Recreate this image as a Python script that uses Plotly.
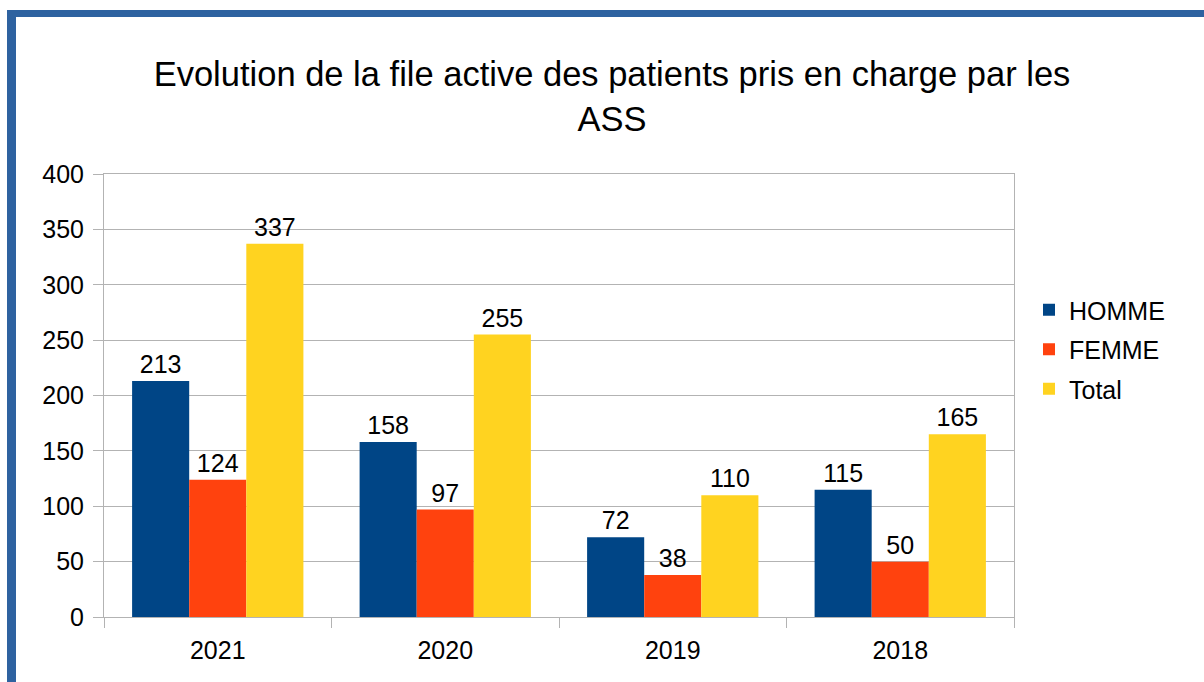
import plotly.graph_objects as go

years = ["2021", "2020", "2019", "2018"]
homme = [213, 158, 72, 115]
femme = [124, 97, 38, 50]
total = [337, 255, 110, 165]
series_names = ["HOMME", "FEMME", "Total"]
colors = ["#004586", "#FF420E", "#FFD320"]

W, H = 1204, 682
ML, MR, MT, MB = 104, 190, 174, 65
PW, PH = W - ML - MR, H - MT - MB

def px_x(px):
    return (px - ML) / PW

def px_y(py):
    return (H - MB - py) / PH

FONT = "Liberation Sans, Arial, sans-serif"

fig = go.Figure()
for i, (name, vals, col) in enumerate(zip(series_names, [homme, femme, total], colors)):
    fig.add_trace(go.Bar(
        name=name, x=years, y=vals, marker=dict(color=col, line=dict(width=0)),
        text=[str(v) for v in vals], textposition="outside",
        textfont=dict(size=25, color="black", family=FONT),
        cliponaxis=False, legendgroup="g%d" % i,
    ))

frame_col = "#2E62A0"
shapes = [
    dict(type="rect", xref="paper", yref="paper", x0=px_x(7), x1=px_x(1210),
         y0=px_y(10), y1=px_y(17), fillcolor=frame_col, line=dict(width=0), layer="above"),
    dict(type="rect", xref="paper", yref="paper", x0=px_x(7), x1=px_x(16),
         y0=px_y(10), y1=px_y(690), fillcolor=frame_col, line=dict(width=0), layer="above"),
]

fig.update_layout(
    width=W, height=H,
    margin=dict(l=ML, r=MR, t=MT, b=MB, pad=0),
    paper_bgcolor="white", plot_bgcolor="white",
    font=dict(family=FONT, size=25, color="black"),
    barmode="group", bargap=0.247, bargroupgap=0,
    title=dict(text="Evolution de la file active des patients pris en charge par les<br>ASS",
               x=612 / W, xref="container", xanchor="center",
               y=1 - 86 / H, yref="container", yanchor="middle",
               font=dict(size=34.5, family=FONT, color="black")),
    legend=dict(x=px_x(1029), y=px_y(287), xanchor="left", yanchor="top",
                font=dict(size=25, family=FONT), tracegroupgap=4,
                itemsizing="constant", bgcolor="rgba(0,0,0,0)"),
    shapes=shapes,
    xaxis=dict(showgrid=False, ticks="outside", ticklen=10, tickcolor="#b3b3b3",
               tickson="boundaries", showline=True, linecolor="#b3b3b3", linewidth=1,
               mirror=True, tickfont=dict(size=25), ticklabelstandoff=11),
    yaxis=dict(range=[0, 400], dtick=50, showgrid=True, gridcolor="#b3b3b3", gridwidth=1,
               ticks="outside", ticklen=10, tickcolor="#b3b3b3", showline=True,
               linecolor="#b3b3b3", linewidth=1, mirror=True, zeroline=False,
               tickfont=dict(size=25), ticklabelstandoff=4),
)

fig.write_html("out.html", config={"displayModeBar": False},
               post_script="document.body.style.margin='0';")
